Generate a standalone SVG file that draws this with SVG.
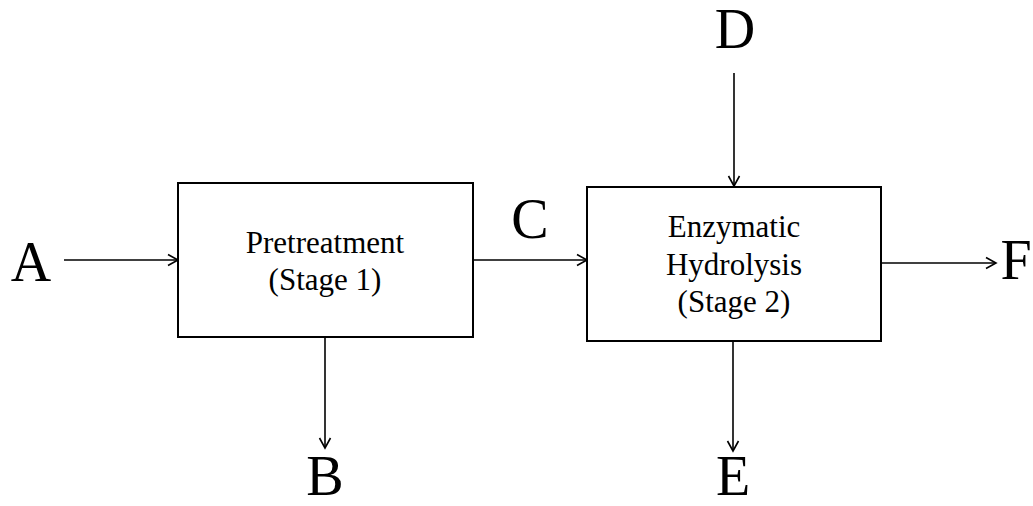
<svg xmlns="http://www.w3.org/2000/svg" width="1033" height="506" viewBox="0 0 1033 506">
<style>
.box{fill:#fff;stroke:#000;stroke-width:2}
.ln{stroke:#000;stroke-width:1.6;fill:none;marker-end:url(#ah)}
.t{font-family:"Liberation Serif","Times New Roman",serif;fill:#000;text-anchor:middle}
.big{font-size:56px}
.mid{font-size:31px}
</style>
<defs>
<marker id="ah" markerUnits="userSpaceOnUse" markerWidth="14" markerHeight="14" refX="11" refY="7" orient="auto">
<path d="M1,1.5 L11,7 L1,12.5" fill="none" stroke="#000" stroke-width="1.6"/>
</marker>
</defs>
<g id="connectors">
<line class="ln" x1="64" y1="260" x2="178" y2="260"/>
<line class="ln" x1="473" y1="260" x2="587" y2="260"/>
<line class="ln" x1="881" y1="263" x2="996" y2="263"/>
<line class="ln" x1="734" y1="73" x2="734" y2="186"/>
<line class="ln" x1="325" y1="337" x2="325" y2="448"/>
<line class="ln" x1="733" y1="341" x2="733" y2="451"/>
</g>
<g id="stage1">
<rect class="box" x="178" y="183" width="295" height="154"/>
<text class="t mid" x="325" y="253">Pretreatment</text>
<text class="t mid" x="325" y="290">(Stage 1)</text>
</g>
<g id="stage2">
<rect class="box" x="587" y="187" width="294" height="154"/>
<text class="t mid" x="734" y="237">Enzymatic</text>
<text class="t mid" x="734" y="275">Hydrolysis</text>
<text class="t mid" x="734" y="312">(Stage 2)</text>
</g>
<g id="A"><text class="t big" x="31" y="281">A</text></g>
<g id="B"><text class="t big" x="325" y="495">B</text></g>
<g id="C"><text class="t big" x="530" y="238">C</text></g>
<g id="D"><text class="t big" x="735" y="48">D</text></g>
<g id="E"><text class="t big" x="733" y="495">E</text></g>
<g id="F"><text class="t big" x="1016" y="279">F</text></g>
</svg>
